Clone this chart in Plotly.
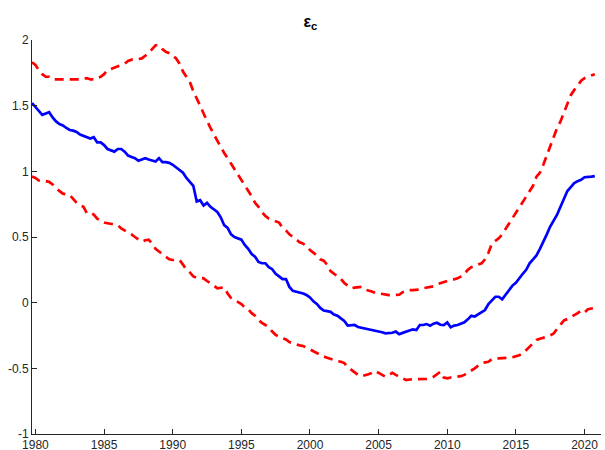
import numpy as np
import plotly.graph_objects as go

# Quarterly sample: 1979Q4 .. 2020Q4
start_year = 1979.75
step = 0.25

# Posterior median of epsilon_c
median = [
    1.52,
    1.49, 1.46, 1.43, 1.44,
    1.45, 1.41, 1.38, 1.36,
    1.35, 1.33, 1.315, 1.31,
    1.30, 1.28, 1.27, 1.26,
    1.25, 1.26, 1.22, 1.22,
    1.20, 1.17, 1.16, 1.15,
    1.17, 1.17, 1.15, 1.12,
    1.11, 1.10, 1.08, 1.09,
    1.10, 1.09, 1.08, 1.075,
    1.10, 1.07, 1.07, 1.065,
    1.05, 1.03, 1.015, 0.99,
    0.95, 0.92, 0.89, 0.77,
    0.78, 0.74, 0.76, 0.73,
    0.71, 0.69, 0.65, 0.59,
    0.57, 0.52, 0.50, 0.49,
    0.48, 0.44, 0.41, 0.37,
    0.35, 0.31, 0.30, 0.30,
    0.27, 0.255, 0.22, 0.20,
    0.18, 0.18, 0.12, 0.09,
    0.085, 0.08, 0.07, 0.058,
    0.04, 0.01, -0.01, -0.04,
    -0.06, -0.065, -0.07, -0.09,
    -0.10, -0.12, -0.14, -0.175,
    -0.17, -0.17, -0.185, -0.19,
    -0.195, -0.20, -0.21, -0.215,
    -0.22, -0.225, -0.233, -0.23,
    -0.229, -0.22, -0.24, -0.23,
    -0.22, -0.21, -0.203, -0.208,
    -0.17, -0.17, -0.163, -0.175,
    -0.16, -0.153, -0.168, -0.17,
    -0.15, -0.188, -0.175, -0.17,
    -0.16, -0.15, -0.127, -0.10,
    -0.105, -0.09, -0.069, -0.056,
    -0.01, 0.02, 0.045, 0.045,
    0.025, 0.06, 0.10, 0.13,
    0.152, 0.19, 0.22, 0.25,
    0.30, 0.33, 0.36, 0.41,
    0.46, 0.52, 0.58, 0.62,
    0.67, 0.73, 0.79, 0.85,
    0.88, 0.91, 0.925, 0.935,
    0.955, 0.955, 0.96, 0.964,
]

# Upper credible band
upper = [
    1.83,
    1.81, 1.77, 1.74, 1.72,
    1.72, 1.70, 1.70, 1.70,
    1.70, 1.695, 1.695, 1.695,
    1.70, 1.70, 1.705, 1.71,
    1.70, 1.70, 1.71, 1.72,
    1.74, 1.77, 1.78, 1.79,
    1.80, 1.815, 1.82, 1.84,
    1.85, 1.85, 1.855, 1.86,
    1.88, 1.90, 1.93, 1.96,
    1.96, 1.93, 1.91, 1.90,
    1.88, 1.86, 1.82, 1.76,
    1.72, 1.68, 1.61, 1.56,
    1.50, 1.44, 1.38, 1.33,
    1.28, 1.23, 1.18, 1.14,
    1.10, 1.06, 1.02, 0.98,
    0.93, 0.89, 0.85, 0.81,
    0.76, 0.73, 0.69, 0.66,
    0.64, 0.63, 0.62, 0.61,
    0.57, 0.55, 0.52, 0.50,
    0.48, 0.46, 0.45, 0.43,
    0.40, 0.38, 0.36, 0.33,
    0.32, 0.29, 0.24, 0.22,
    0.20, 0.18, 0.15, 0.13,
    0.11, 0.115, 0.12, 0.12,
    0.10, 0.095, 0.085, 0.075,
    0.07, 0.065, 0.058, 0.058,
    0.058, 0.058, 0.06, 0.08,
    0.09, 0.095, 0.096, 0.10,
    0.10, 0.11, 0.115, 0.12,
    0.125, 0.14, 0.15, 0.16,
    0.165, 0.17, 0.175, 0.185,
    0.20, 0.22, 0.25, 0.27,
    0.28, 0.29, 0.30, 0.33,
    0.38, 0.45, 0.47, 0.49,
    0.52, 0.56, 0.61, 0.64,
    0.68, 0.72, 0.77, 0.81,
    0.85, 0.89, 0.96, 0.99,
    1.05, 1.12, 1.18, 1.26,
    1.33, 1.38, 1.45, 1.52,
    1.58, 1.62, 1.65, 1.69,
    1.71, 1.72, 1.73, 1.74,
]

# Lower credible band
lower = [
    0.96,
    0.95, 0.93, 0.93, 0.925,
    0.92, 0.90, 0.87, 0.85,
    0.83, 0.825, 0.82, 0.79,
    0.76, 0.74, 0.73, 0.68,
    0.685, 0.67, 0.64, 0.625,
    0.61, 0.605, 0.60, 0.595,
    0.59, 0.565, 0.55, 0.54,
    0.52, 0.50, 0.48, 0.465,
    0.475, 0.48, 0.45, 0.41,
    0.39, 0.37, 0.35, 0.33,
    0.325, 0.325, 0.325, 0.29,
    0.25, 0.23, 0.20, 0.19,
    0.19, 0.185, 0.165, 0.15,
    0.13, 0.11, 0.115, 0.117,
    0.07, 0.035, 0.02, 0.008,
    -0.01, -0.035, -0.05, -0.08,
    -0.10, -0.13, -0.155, -0.17,
    -0.19, -0.22, -0.245, -0.26,
    -0.27, -0.28, -0.30, -0.31,
    -0.315, -0.325, -0.33, -0.34,
    -0.355, -0.37, -0.385, -0.40,
    -0.41, -0.42, -0.43, -0.44,
    -0.445, -0.45, -0.46, -0.49,
    -0.51, -0.53, -0.55, -0.56,
    -0.555, -0.545, -0.535, -0.52,
    -0.535, -0.55, -0.564, -0.55,
    -0.535, -0.55, -0.565, -0.576,
    -0.589, -0.585, -0.585, -0.584,
    -0.584, -0.584, -0.58, -0.576,
    -0.565, -0.545, -0.526, -0.57,
    -0.576, -0.57, -0.567, -0.564,
    -0.56, -0.55, -0.535, -0.52,
    -0.50, -0.48, -0.462, -0.455,
    -0.45, -0.43, -0.424, -0.424,
    -0.424, -0.424, -0.42, -0.416,
    -0.41, -0.40, -0.386, -0.36,
    -0.335, -0.31, -0.284, -0.275,
    -0.27, -0.26, -0.25, -0.235,
    -0.20, -0.165, -0.135, -0.125,
    -0.11, -0.10, -0.08, -0.06,
    -0.075, -0.05, -0.045, -0.04,
]

x_ticks = [1980, 1985, 1990, 1995, 2000, 2005, 2010, 2015, 2020]
y_ticks = [-1, -0.5, 0, 0.5, 1, 1.5, 2]
y_tick_labels = ["-1", "-0.5", "0", "0.5", "1", "1.5", "2"]

dates = start_year + step * np.arange(len(median))

AXIS_COLOR = "#262626"
FONT = "Liberation Sans, Arial, Helvetica, sans-serif"

fig = go.Figure()
fig.add_trace(go.Scatter(x=dates, y=upper, mode="lines",
                         line=dict(color="#FF0000", width=2.7, dash="9px,6px")))
fig.add_trace(go.Scatter(x=dates, y=lower, mode="lines",
                         line=dict(color="#FF0000", width=2.7, dash="9px,6px")))
fig.add_trace(go.Scatter(x=dates, y=median, mode="lines",
                         line=dict(color="#0000FF", width=2.7)))

axis_common = dict(
    showgrid=False, zeroline=False, showline=True,
    linecolor=AXIS_COLOR, linewidth=1,
    ticks="inside", ticklen=5, tickwidth=1, tickcolor=AXIS_COLOR,
    tickfont=dict(family=FONT, size=12, color=AXIS_COLOR),
    mirror=False, automargin=False,
)

fig.update_layout(
    width=605, height=450,
    margin=dict(l=32, r=4, t=40, b=16),
    paper_bgcolor="white", plot_bgcolor="white",
    showlegend=False,
    title=dict(text="<b>ε<sub>c</sub></b>", x=0.513, xanchor="center",
               y=0.953, yanchor="middle",
               font=dict(family=FONT, size=16, color="black")),
    xaxis=dict(range=[1979.75, 2021.2], tickvals=x_ticks, ticklabelstandoff=0,
               **axis_common),
    yaxis=dict(range=[-1, 2], tickvals=y_ticks, ticktext=y_tick_labels,
               **axis_common),
)

fig.write_html("out.html")
